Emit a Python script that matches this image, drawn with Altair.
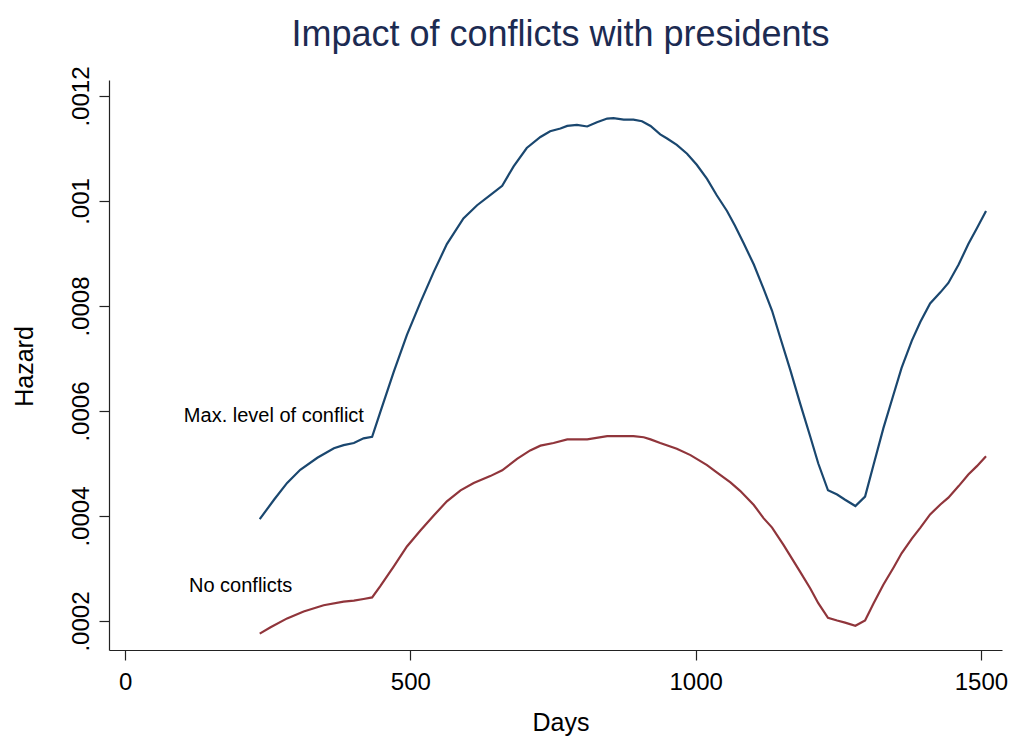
import altair as alt
import pandas as pd

# Series (days, hazard)
days_conflict = [236, 261, 284, 307, 337, 366, 383, 401, 418, 433, 447, 471, 494, 518, 541, 564,
                 593, 617, 640, 661, 681, 704, 728, 745, 763, 775, 792, 810, 827, 845, 856, 874,
                 891, 906, 921, 938, 950, 967, 985, 1002, 1020, 1037, 1055, 1069, 1084, 1102,
                 1119, 1134, 1148, 1166, 1183, 1201, 1215, 1232, 1248, 1262, 1280, 1297, 1312,
                 1329, 1347, 1361, 1379, 1394, 1411, 1429, 1443, 1461, 1478, 1493, 1509]
hazard_conflict = [.000394, .000431, .000463, .000488, .000511, .000529, .000535, .000539, .000548,
                   .000551, .000597, .000675, .000745, .000808, .000865, .000918, .000967, .000992,
                   .001011, .001029, .001066, .001101, .001122, .001133, .001138, .001143, .001145,
                   .001142, .00115, .001157, .001158, .001155, .001155, .001152, .001143, .001127,
                   .001119, .001107, .00109, .001069, .001042, .001011, .000981, .000953, .00092,
                   .000879, .000833, .000791, .000741, .000678, .000615, .000551, .0005, .000449,
                   .000441, .000431, .000419, .000437, .000498, .000567, .000632, .000682, .000734,
                   .00077, .000805, .000826, .000844, .000879, .000918, .000948, .000981]

days_none = [236, 255, 284, 313, 348, 383, 401, 418, 433, 447, 471, 494, 518, 541, 564, 588, 611,
             640, 661, 687, 710, 728, 751, 775, 810, 845, 868, 891, 909, 921, 938, 967, 991, 1020,
             1037, 1061, 1078, 1102, 1119, 1134, 1154, 1183, 1201, 1215, 1232, 1248, 1262, 1280,
             1297, 1312, 1329, 1347, 1361, 1379, 1394, 1411, 1429, 1443, 1461, 1478, 1493, 1509]
hazard_none = [.000176, .000188, .000205, .000218, .00023, .000237, .000239, .000242, .000245,
               .000266, .000304, .000342, .000373, .000401, .000428, .000449, .000463, .000476,
               .000487, .000509, .000525, .000534, .000539, .000546, .000546, .000552, .000552,
               .000552, .00055, .000546, .000539, .000528, .000516, .000497, .000483, .000464,
               .000448, .000421, .000396, .000378, .000345, .000294, .000262, .000234, .000206,
               .000201, .000197, .000191, .000201, .000234, .000269, .000302, .000329, .000357,
               .000378, .000403, .000422, .000435, .000457, .000479, .000495, .000514]

series_names = ["Max. level of conflict", "No conflicts"]
series_colors = ["#1a476f", "#90353b"]

label_texts = ["Max. level of conflict", "No conflicts"]
label_days = [103, 112]
label_hazard = [.000579, .000255]

x_ticks = [0, 500, 1000, 1500]
y_ticks = [.0002, .0004, .0006, .0008, .001, .0012]

FONT = "Liberation Sans"

df = pd.concat([
    pd.DataFrame({"days": days_conflict, "hazard": hazard_conflict, "series": series_names[0]}),
    pd.DataFrame({"days": days_none, "hazard": hazard_none, "series": series_names[1]}),
])
labels = pd.DataFrame({"days": label_days, "hazard": label_hazard, "label": label_texts})

xscale = alt.Scale(domain=[-28.2, 1537], nice=False, zero=False)
yscale = alt.Scale(domain=[0.0001448, 0.0012305], nice=False, zero=False)

xaxis = alt.Axis(values=x_ticks, format="d", title="Days", grid=False,
                 labelFont=FONT, labelFontSize=24, labelColor="black", labelPadding=10,
                 tickSize=10, tickColor="#222", tickWidth=1.2,
                 domainColor="#222", domainWidth=1.2,
                 titleFont=FONT, titleFontSize=25, titleFontWeight="normal", titleColor="black",
                 titleX=451.5, titleY=80, titleBaseline="alphabetic", titleAlign="center")
yaxis = alt.Axis(values=y_ticks, labelExpr="substring(format(datum.value, '.4~f'), 1)",
                 title="Hazard", grid=False,
                 labelFont=FONT, labelFontSize=24, labelColor="black", labelAngle=270,
                 labelAlign="center", labelBaseline="alphabetic", labelPadding=11,
                 tickSize=10, tickColor="#222", tickWidth=1.2,
                 domainColor="#222", domainWidth=1.2,
                 titleFont=FONT, titleFontSize=25, titleFontWeight="normal", titleColor="black",
                 titleAngle=270, titleX=-76.5, titleY=286, titleBaseline="alphabetic",
                 titleAlign="center")

lines = alt.Chart(df).mark_line(strokeWidth=2.2).encode(
    x=alt.X("days:Q", scale=xscale, axis=xaxis),
    y=alt.Y("hazard:Q", scale=yscale, axis=yaxis),
    color=alt.Color("series:N", scale=alt.Scale(domain=series_names, range=series_colors), legend=None),
    detail="series:N",
)

texts = alt.Chart(labels).mark_text(font=FONT, fontSize=20, align="left", baseline="alphabetic",
                                    color="black").encode(
    x=alt.X("days:Q", scale=xscale),
    y=alt.Y("hazard:Q", scale=yscale),
    text="label:N",
)

chart = alt.layer(lines, texts).properties(
    width=893, height=570,
    autosize=alt.AutoSizeParams(type="none"),
    padding={"left": 101, "top": 72, "right": 10, "bottom": 95},
    title=alt.TitleParams("Impact of conflicts with presidents", font=FONT, fontSize=36,
                          fontWeight="normal", color="#1c2b52", anchor="middle", offset=12, dx=5),
    background="white",
).configure_view(stroke=None)

chart.save("out.html", embed_options={"renderer": "svg", "actions": False})
